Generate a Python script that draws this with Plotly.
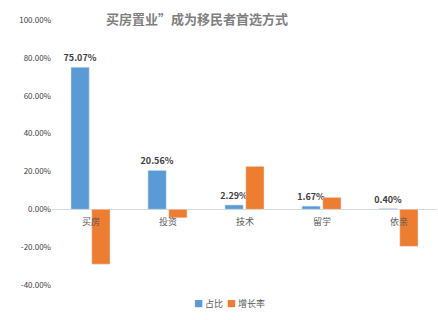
import plotly.graph_objects as go

categories = ["买房", "投资", "技术", "留学", "依亲"]
share = [75.07, 20.56, 2.29, 1.67, 0.40]
growth = [-29.0, -4.5, 22.7, 6.3, -19.6]
share_labels = ["75.07%", "20.56%", "2.29%", "1.67%", "0.40%"]
series_names = ["占比", "增长率"]
tick_vals = [100, 80, 60, 40, 20, 0, -20, -40]
tick_text = ["100.00%", "80.00%", "60.00%", "40.00%", "20.00%", "0.00%", "-20.00%", "-40.00%"]

font = "Noto Sans CJK SC"
blue = "#5B9BD5"
orange = "#ED7D31"
fig = go.Figure()
fig.add_trace(go.Bar(
    x=categories, y=share, name=series_names[0], marker_color=blue,
    text=share_labels, textposition="outside", cliponaxis=False, constraintext="none",
    textfont=dict(family=font, size=9, color="#404040", weight="bold"),
))
fig.add_trace(go.Bar(
    x=categories, y=growth, name=series_names[1], marker_color=orange,
))
for c in categories:
    fig.add_annotation(x=c, y=0, text=c, showarrow=False, yanchor="top", yshift=-4,
                       font=dict(family=font, size=9, color="#595959"))
# legend drawn as text
legend_text = (f"<span style='color:{blue}'>■</span> {series_names[0]}  "
               f"<span style='color:{orange}'>■</span> {series_names[1]}")
fig.add_annotation(xref="paper", yref="paper", x=0.46, y=-0.07, xanchor="center", yanchor="middle",
                   text=legend_text, showarrow=False,
                   font=dict(family=font, size=9, color="#595959"))
fig.update_layout(
    width=438, height=320,
    margin=dict(l=52, r=1, t=20, b=35, autoexpand=False),
    paper_bgcolor="white", plot_bgcolor="white",
    barmode="group", bargap=0.46, bargroupgap=0.12,
    title=dict(text="买房置业”成为移民者首选方式", x=0.45, xanchor="center", y=0.94, yanchor="middle",
               font=dict(family=font, size=13, color="#7F7F7F", weight="bold")),
    font=dict(family=font, size=8, color="#404040"),
    showlegend=False,
)
fig.update_xaxes(showticklabels=False, showgrid=False, zeroline=False, showline=False)
fig.update_yaxes(range=[-40, 100], tickvals=tick_vals, ticktext=tick_text,
                 showgrid=False, zeroline=True, zerolinecolor="#D9D9D9", zerolinewidth=1,
                 tickfont=dict(family=font, size=8, color="#404040"), ticklen=0)
fig.write_html("out.html")
